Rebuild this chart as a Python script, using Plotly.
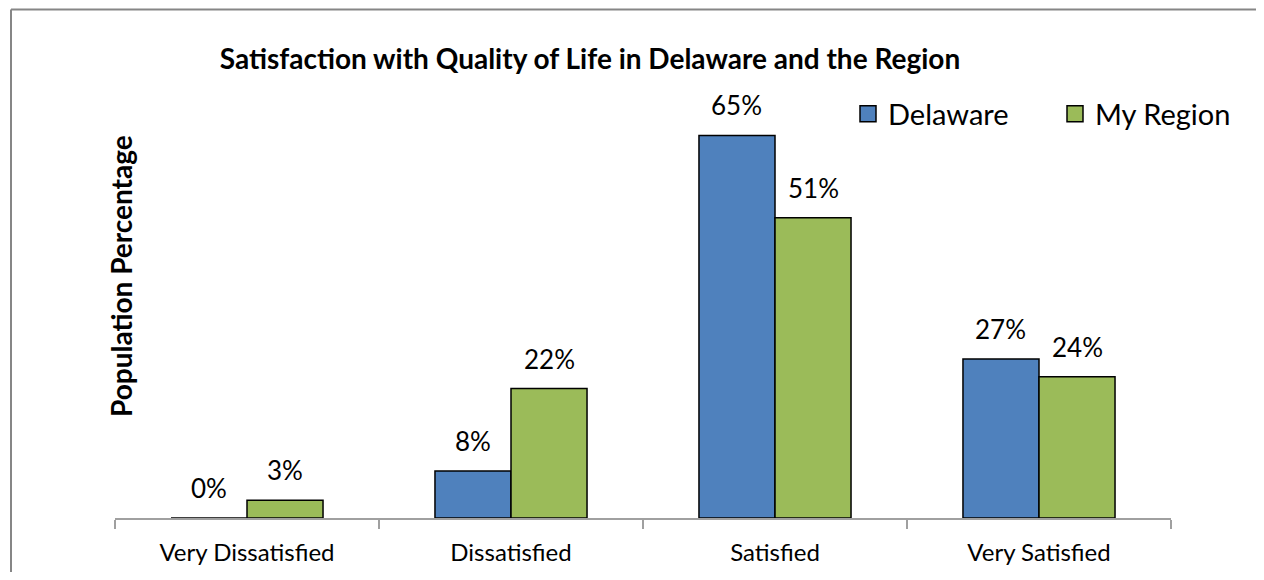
import plotly.graph_objects as go

categories = ["Very Dissatisfied", "Dissatisfied", "Satisfied", "Very Satisfied"]
delaware = [0, 8, 65, 27]
my_region = [3, 22, 51, 24]

FONT = "Lato"
BLUE = "#4F81BD"
GREEN = "#9BBB59"

# the page body adds an 8px margin all round, so keep the figure inside the window
OFF = 8
W, H = 1264 - 2 * OFF, 580 - 2 * OFF
# plot area in window pixels: x 115..1171, y 106..518
L, T = 115 - OFF, 106 - OFF
R, B = W - (1171 - OFF), H - (518 - OFF)
PW, PH = W - L - R, H - T - B


def px_x(x):
    return (x - OFF - L) / PW


def px_y(y):
    return (H - B - (y - OFF)) / PH


fig = go.Figure()
for name, vals, col in (("Delaware", delaware, BLUE), ("My Region", my_region, GREEN)):
    fig.add_trace(go.Bar(x=categories, y=vals, name=name, showlegend=False,
                         marker=dict(color=col, line=dict(color="black", width=1.5))))
    # legend-only marker so the legend square is larger than the bar default
    fig.add_trace(go.Scatter(x=[None], y=[None], mode="markers", name=name,
                             marker=dict(symbol="square", size=19, color=col,
                                         line=dict(color="black", width=1.5))))

# value labels above each bar
half = 0.144
for i, (d, r) in enumerate(zip(delaware, my_region)):
    for off, v in ((-half, d), (half, r)):
        fig.add_annotation(x=i + off, y=v, text=f"{v}%", showarrow=False,
                           xanchor="center", yanchor="bottom", yshift=12,
                           font=dict(family=FONT, size=26, color="black"))

# y-axis title
fig.add_annotation(text="<b>Population Percentage</b>", textangle=-90,
                   xref="paper", yref="paper", x=px_x(121), y=px_y(276),
                   xanchor="center", yanchor="middle",
                   showarrow=False, font=dict(family=FONT, size=28, color="black"))

# cut-off figure caption at very top
fig.add_annotation(text="<b>Fig. 3</b>", xref="paper", yref="paper",
                   x=px_x(14), y=px_y(5), xanchor="left", yanchor="bottom",
                   showarrow=False, font=dict(family=FONT, size=20, color="black"))

# outer frame: only the left and top edges are inside the picture
frame = dict(color="#868686", width=2)
fig.add_shape(type="line", xref="paper", yref="paper",
              x0=px_x(11), x1=px_x(11), y0=px_y(600), y1=px_y(9.5),
              line=frame, layer="below")
fig.add_shape(type="line", xref="paper", yref="paper",
              x0=px_x(11), x1=px_x(1290), y0=px_y(9.5), y1=px_y(9.5),
              line=frame, layer="below")

fig.update_layout(
    width=W, height=H,
    margin=dict(l=L, r=R, t=T, b=B, autoexpand=False),
    paper_bgcolor="white", plot_bgcolor="white",
    barmode="group", bargap=0.424, bargroupgap=0,
    title=dict(text="<b>Satisfaction with Quality of Life in Delaware and the Region</b>",
               x=(590 - OFF) / W, xanchor="center", xref="container",
               y=1 - (59 - OFF) / H, yanchor="middle", yref="container",
               font=dict(family=FONT, size=28, color="black")),
    legend=dict(orientation="h", x=px_x(848), xanchor="left",
                y=px_y(114), yanchor="middle",
                font=dict(family=FONT, size=29, color="black"),
                entrywidth=162, entrywidthmode="pixels",
                bgcolor="rgba(0,0,0,0)"),
    font=dict(family=FONT, color="black"),
)
fig.update_xaxes(showline=True, linecolor="#A0A0A0", linewidth=2,
                 ticks="outside", tickson="boundaries", ticklen=9, tickwidth=2,
                 tickcolor="#A0A0A0", ticklabelstandoff=12,
                 tickfont=dict(family=FONT, size=24, color="black"),
                 showgrid=False, fixedrange=True)
fig.update_yaxes(visible=False, range=[0, 70], showgrid=False, zeroline=False)

fig.write_html("out.html")
